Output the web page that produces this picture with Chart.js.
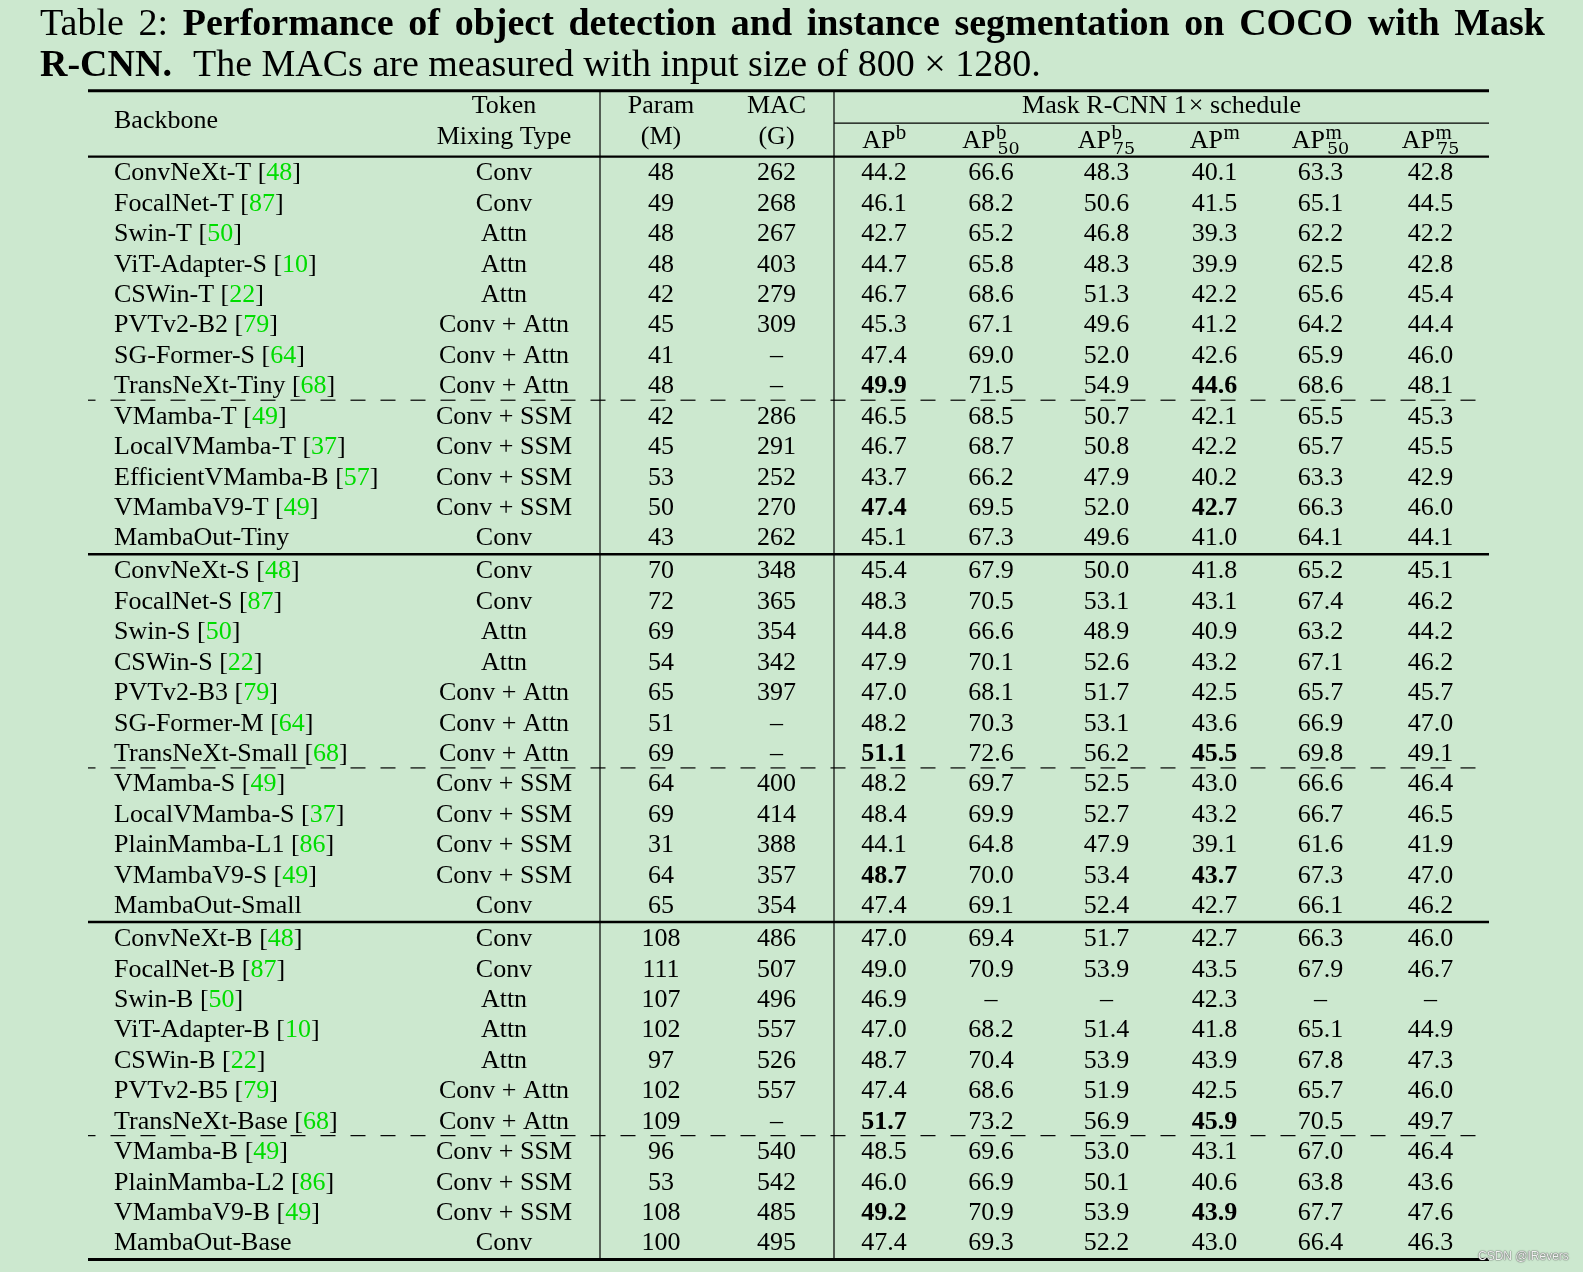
<!DOCTYPE html>
<html>
<head>
<meta charset="utf-8">
<title>Table 2</title>
<script src="https://cdn.jsdelivr.net/npm/chart.js@4.4.1/dist/chart.umd.min.js"></script>
<style>
  html, body { margin: 0; padding: 0; background: #cce8cf; }
  #page { position: relative; width: 1583px; height: 1272px; overflow: hidden; }
  #caption { position: absolute; left: 40px; top: 2px; font-family: "Liberation Serif", "Times New Roman", serif;
             font-size: 38px; line-height: 41px; color: #000; white-space: nowrap; }
  #caption b { font-weight: bold; }
  #table { position: absolute; left: 0; top: 0; }
  #mark { position: absolute; left: 1478px; top: 1249px; font-family: "Liberation Sans", Arial, sans-serif;
          font-size: 12px; line-height: 14px; color: #f2f2f2;
          text-shadow: 0 0 1.5px #4a4a4a, 0 0 1px #4a4a4a; }
</style>
</head>
<body>
<div id="page">
  <canvas id="table" width="1583" height="1272"></canvas>
  <div id="caption">
    <div id="line1">Table 2: <b>Performance of object detection and instance segmentation on COCO with Mask</b></div>
    <div id="line2"><b>R-CNN.</b><span style="display:inline-block;width:21px"></span>The MACs are measured with input size of 800 × 1280.</div>
  </div>
  <div id="mark">CSDN @IRevers</div>
</div>
<script>
var W = 1583, H = 1272;

// ---- table data ----
var backbones = [
  'ConvNeXt-T', 'FocalNet-T', 'Swin-T', 'ViT-Adapter-S', 'CSWin-T', 'PVTv2-B2', 'SG-Former-S', 'TransNeXt-Tiny',
  'VMamba-T', 'LocalVMamba-T', 'EfficientVMamba-B', 'VMambaV9-T', 'MambaOut-Tiny',
  'ConvNeXt-S', 'FocalNet-S', 'Swin-S', 'CSWin-S', 'PVTv2-B3', 'SG-Former-M', 'TransNeXt-Small',
  'VMamba-S', 'LocalVMamba-S', 'PlainMamba-L1', 'VMambaV9-S', 'MambaOut-Small',
  'ConvNeXt-B', 'FocalNet-B', 'Swin-B', 'ViT-Adapter-B', 'CSWin-B', 'PVTv2-B5', 'TransNeXt-Base',
  'VMamba-B', 'PlainMamba-L2', 'VMambaV9-B', 'MambaOut-Base'
];
var cites = [
  48, 87, 50, 10, 22, 79, 64, 68, 49, 37, 57, 49, null,
  48, 87, 50, 22, 79, 64, 68, 49, 37, 86, 49, null,
  48, 87, 50, 10, 22, 79, 68, 49, 86, 49, null
];
var mixing = [
  'Conv', 'Conv', 'Attn', 'Attn', 'Attn', 'Conv + Attn', 'Conv + Attn', 'Conv + Attn',
  'Conv + SSM', 'Conv + SSM', 'Conv + SSM', 'Conv + SSM', 'Conv',
  'Conv', 'Conv', 'Attn', 'Attn', 'Conv + Attn', 'Conv + Attn', 'Conv + Attn',
  'Conv + SSM', 'Conv + SSM', 'Conv + SSM', 'Conv + SSM', 'Conv',
  'Conv', 'Conv', 'Attn', 'Attn', 'Attn', 'Conv + Attn', 'Conv + Attn',
  'Conv + SSM', 'Conv + SSM', 'Conv + SSM', 'Conv'
];
var params = [
  48, 49, 48, 48, 42, 45, 41, 48, 42, 45, 53, 50, 43,
  70, 72, 69, 54, 65, 51, 69, 64, 69, 31, 64, 65,
  108, 111, 107, 102, 97, 102, 109, 96, 53, 108, 100
];
var macs = [
  262, 268, 267, 403, 279, 309, null, null, 286, 291, 252, 270, 262,
  348, 365, 354, 342, 397, null, null, 400, 414, 388, 357, 354,
  486, 507, 496, 557, 526, 557, null, 540, 542, 485, 495
];
var apBox = [
  44.2, 46.1, 42.7, 44.7, 46.7, 45.3, 47.4, 49.9, 46.5, 46.7, 43.7, 47.4, 45.1,
  45.4, 48.3, 44.8, 47.9, 47.0, 48.2, 51.1, 48.2, 48.4, 44.1, 48.7, 47.4,
  47.0, 49.0, 46.9, 47.0, 48.7, 47.4, 51.7, 48.5, 46.0, 49.2, 47.4
];
var apBox50 = [
  66.6, 68.2, 65.2, 65.8, 68.6, 67.1, 69.0, 71.5, 68.5, 68.7, 66.2, 69.5, 67.3,
  67.9, 70.5, 66.6, 70.1, 68.1, 70.3, 72.6, 69.7, 69.9, 64.8, 70.0, 69.1,
  69.4, 70.9, null, 68.2, 70.4, 68.6, 73.2, 69.6, 66.9, 70.9, 69.3
];
var apBox75 = [
  48.3, 50.6, 46.8, 48.3, 51.3, 49.6, 52.0, 54.9, 50.7, 50.8, 47.9, 52.0, 49.6,
  50.0, 53.1, 48.9, 52.6, 51.7, 53.1, 56.2, 52.5, 52.7, 47.9, 53.4, 52.4,
  51.7, 53.9, null, 51.4, 53.9, 51.9, 56.9, 53.0, 50.1, 53.9, 52.2
];
var apMask = [
  40.1, 41.5, 39.3, 39.9, 42.2, 41.2, 42.6, 44.6, 42.1, 42.2, 40.2, 42.7, 41.0,
  41.8, 43.1, 40.9, 43.2, 42.5, 43.6, 45.5, 43.0, 43.2, 39.1, 43.7, 42.7,
  42.7, 43.5, 42.3, 41.8, 43.9, 42.5, 45.9, 43.1, 40.6, 43.9, 43.0
];
var apMask50 = [
  63.3, 65.1, 62.2, 62.5, 65.6, 64.2, 65.9, 68.6, 65.5, 65.7, 63.3, 66.3, 64.1,
  65.2, 67.4, 63.2, 67.1, 65.7, 66.9, 69.8, 66.6, 66.7, 61.6, 67.3, 66.1,
  66.3, 67.9, null, 65.1, 67.8, 65.7, 70.5, 67.0, 63.8, 67.7, 66.4
];
var apMask75 = [
  42.8, 44.5, 42.2, 42.8, 45.4, 44.4, 46.0, 48.1, 45.3, 45.5, 42.9, 46.0, 44.1,
  45.1, 46.2, 44.2, 46.2, 45.7, 47.0, 49.1, 46.4, 46.5, 41.9, 47.0, 46.2,
  46.0, 46.7, null, 44.9, 47.3, 46.0, 49.7, 46.4, 43.6, 47.6, 46.3
];
var bestRows = [7, 11, 19, 23, 31, 34];   // bold AP^b and AP^m
var groupSizes = [13, 12, 11];
var dashAfter = [7, 19, 31];

var apColumns = [apBox, apBox50, apBox75, apMask, apMask50, apMask75];
var apHeads = [
  { sup: 'b' }, { sup: 'b', sub: '50' }, { sup: 'b', sub: '75' },
  { sup: 'm' }, { sup: 'm', sub: '50' }, { sup: 'm', sub: '75' }
];

// ---- layout (x in page pixels, y in row units) ----
var firstRowPx = 171.6, rowPitch = 30.44;
var colX = { backbone: 114, mixing: 504, param: 661, mac: 776.5, ap: [884, 991, 1106.5, 1214.5, 1320.5, 1430.6] };
var tableLeft = 88, tableRight = 1489, splitX = [600, 834];
var groupGap = 0.08;
var serif = '"Liberation Serif", "Times New Roman", serif';
var subSerif = '"DejaVu Serif", serif';
var fontPx = 26, supPx = 21, subPx = 17.5;
var citeColor = '#00dd00';

function rowV(i) {
  var g = 0, acc = 0;
  while (i >= acc + groupSizes[g]) { acc += groupSizes[g]; g++; }
  return i + g * groupGap;
}

function rule(x0, x1, y0, y1, width, dash) {
  return {
    data: [{ x: x0, y: y0 }, { x: x1, y: y1 }],
    showLine: true, borderColor: '#000', borderWidth: width,
    borderDash: dash || [], borderDashOffset: dash ? dash[0] / 2 : 0,
    pointRadius: 0, fill: false
  };
}

var nRows = backbones.length;
var topV = -2.66, cmidV = -1.59, headV = -0.49, bottomV = rowV(nRows - 1) + 0.58;
var rules = [
  rule(tableLeft, tableRight, topV, topV, 3),
  rule(splitX[1], tableRight, cmidV, cmidV, 1.2),
  rule(tableLeft, tableRight, headV, headV, 2.2),
  rule(tableLeft, tableRight, bottomV, bottomV, 3)
];
var acc = 0;
groupSizes.forEach(function(n, g) {
  acc += n;
  if (g < groupSizes.length - 1) {
    var v = rowV(acc - 1) + 0.57;
    rules.push(rule(tableLeft, tableRight, v, v, 2.5));
  }
});
dashAfter.forEach(function(i) {
  var v = rowV(i) + 0.51;
  rules.push(rule(tableLeft, tableRight, v, v, 1.2, [15, 15]));
});
splitX.forEach(function(x) {
  rules.push(rule(x, x, topV, bottomV, 1.2));
});

var tableText = {
  id: 'tableText',
  afterDatasetsDraw: function(chart) {
    var ctx = chart.ctx, xs = chart.scales.x, ys = chart.scales.y;
    var base = function(v) { return ys.getPixelForValue(v) + 8.6; };

    function put(text, xv, v, align, bold, color) {
      ctx.font = (bold ? 'bold ' : '') + fontPx + 'px ' + serif;
      ctx.textAlign = align;
      ctx.fillStyle = color || '#000';
      ctx.fillText(text, xs.getPixelForValue(xv), base(v));
    }

    ctx.save();
    ctx.textBaseline = 'alphabetic';

    // header
    put('Backbone', colX.backbone, -1.70, 'left');
    put('Token', colX.mixing, -2.22, 'center');
    put('Mixing Type', colX.mixing, -1.19, 'center');
    put('Param', colX.param, -2.22, 'center');
    put('(M)', colX.param, -1.19, 'center');
    put('MAC', colX.mac, -2.22, 'center');
    put('(G)', colX.mac, -1.19, 'center');
    put('Mask R-CNN 1\u200a\u00d7 schedule', (splitX[1] + tableRight) / 2, -2.22, 'center');

    apHeads.forEach(function(h, k) {
      var y = base(-1.07);
      ctx.font = fontPx + 'px ' + serif;
      var wAP = ctx.measureText('AP').width;
      ctx.font = supPx + 'px ' + serif;
      var wSup = ctx.measureText(h.sup).width;
      ctx.font = subPx + 'px ' + subSerif;
      var wSub = h.sub ? ctx.measureText(h.sub).width + 2 : 0;
      var x = xs.getPixelForValue(colX.ap[k]) - (wAP + Math.max(wSup, wSub)) / 2;
      ctx.textAlign = 'left';
      ctx.fillStyle = '#000';
      ctx.font = fontPx + 'px ' + serif;
      ctx.fillText('AP', x, y);
      ctx.font = supPx + 'px ' + serif;
      ctx.fillText(h.sup, x + wAP + 0.5, y - 8.6);
      if (h.sub) {
        ctx.font = subPx + 'px ' + subSerif;
        ctx.fillText(h.sub, x + wAP + 2, y + 6.7);
      }
    });

    // body
    for (var i = 0; i < nRows; i++) {
      var v = rowV(i);
      var y = base(v);
      var x = xs.getPixelForValue(colX.backbone);
      ctx.font = fontPx + 'px ' + serif;
      ctx.textAlign = 'left';
      ctx.fillStyle = '#000';
      var label = backbones[i] + (cites[i] !== null ? ' [' : '');
      ctx.fillText(label, x, y);
      if (cites[i] !== null) {
        x += ctx.measureText(label).width;
        ctx.fillStyle = citeColor;
        ctx.fillText(String(cites[i]), x, y);
        x += ctx.measureText(String(cites[i])).width;
        ctx.fillStyle = '#000';
        ctx.fillText(']', x, y);
      }
      put(mixing[i], colX.mixing, v, 'center');
      put(String(params[i]), colX.param, v, 'center');
      put(macs[i] === null ? '\u2013' : String(macs[i]), colX.mac, v, 'center');
      var best = bestRows.indexOf(i) >= 0;
      apColumns.forEach(function(col, k) {
        var val = col[i];
        put(val === null ? '\u2013' : val.toFixed(1), colX.ap[k], v, 'center', best && (k === 0 || k === 3));
      });
    }
    ctx.restore();
  }
};

function justifyCaption() {
  var line = document.getElementById('line1');
  var target = 1505;
  line.style.display = 'inline-block';
  var natural = line.getBoundingClientRect().width;
  line.style.display = 'block';
  var spaces = (line.textContent.match(/ /g) || []).length;
  if (spaces > 0) line.style.wordSpacing = ((target - natural) / spaces) + 'px';
}

document.fonts.load(fontPx + 'px ' + serif).then(function() {
  justifyCaption();

  new Chart(document.getElementById('table'), {
    type: 'scatter',
    data: { datasets: rules },
    options: {
      responsive: false,
      animation: false,
      events: [],
      layout: { padding: 0 },
      plugins: { legend: { display: false }, tooltip: { enabled: false } },
      scales: {
        x: { type: 'linear', display: false, min: 0, max: W },
        y: { type: 'linear', display: false, reverse: true,
             min: -firstRowPx / rowPitch, max: (H - firstRowPx) / rowPitch }
      }
    },
    plugins: [tableText]
  });
});
</script>
</body>
</html>
